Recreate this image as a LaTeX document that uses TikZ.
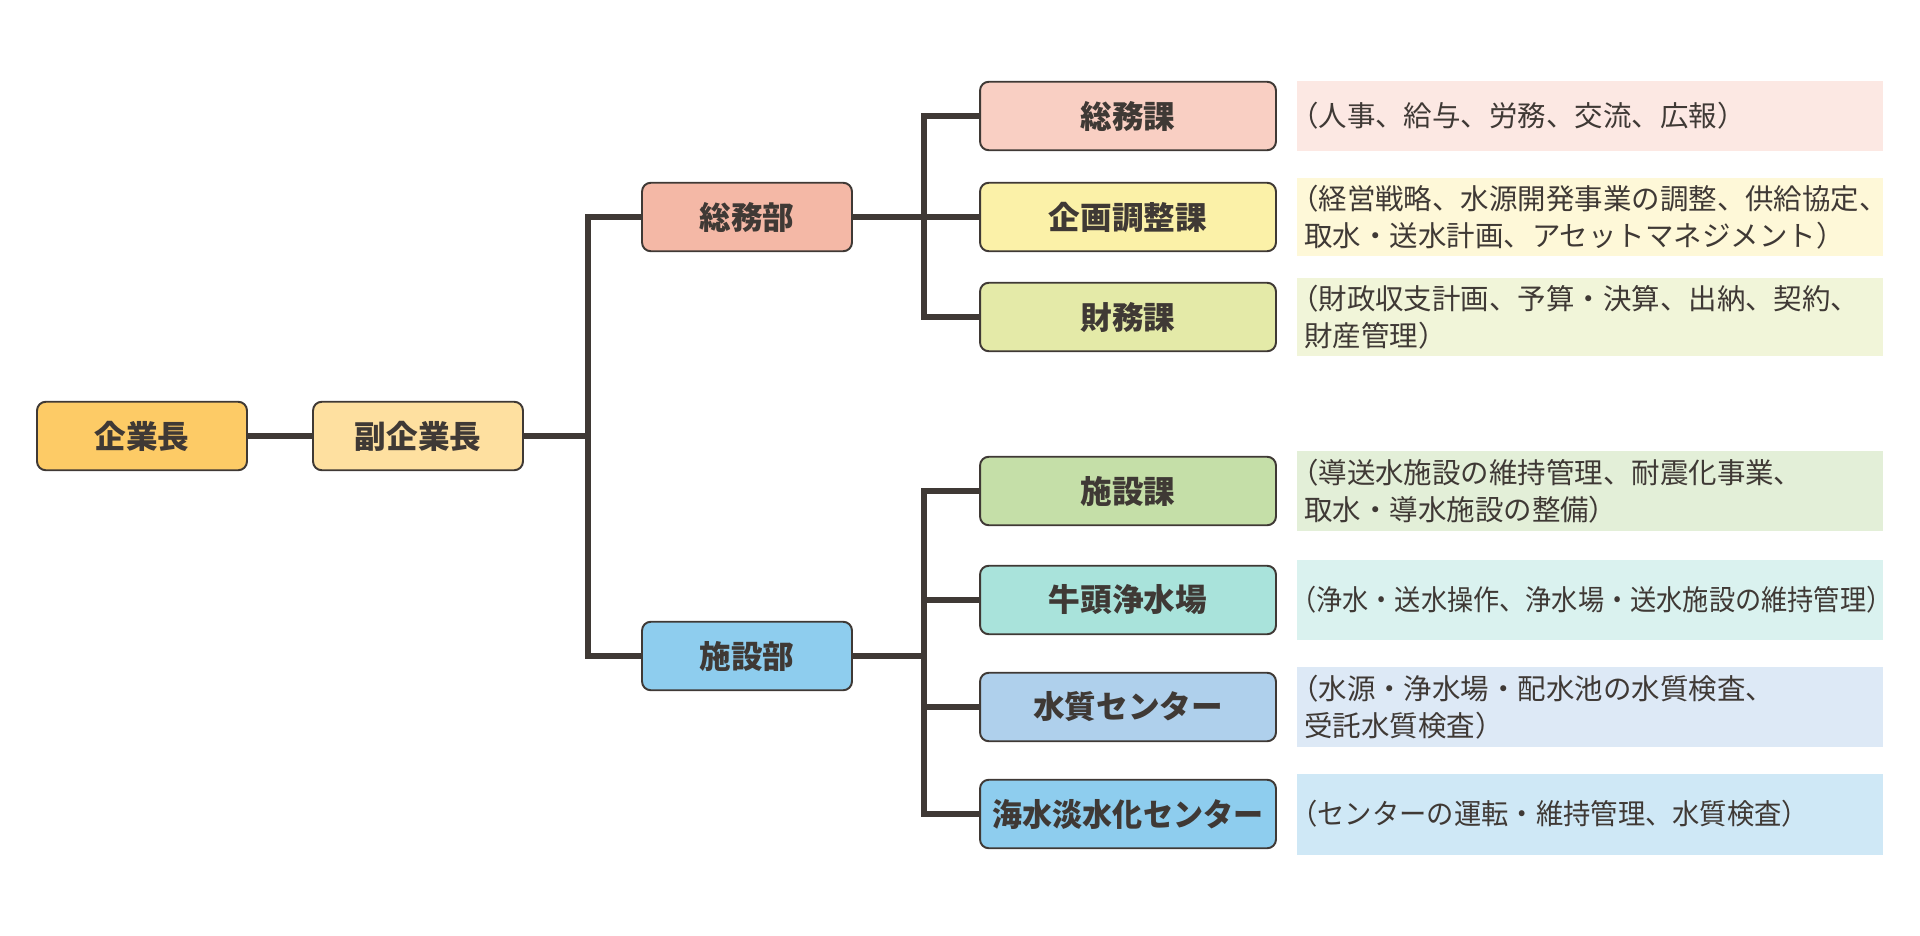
\documentclass[tikz,border=0pt]{standalone}
\usepackage{fontspec}
\newfontfamily\jpfont{Noto Sans CJK JP}
\definecolor{lineclr}{HTML}{3F3935}
\definecolor{topclr}{HTML}{FDCB66}
\definecolor{viceclr}{HTML}{FEE0A0}
\definecolor{buA}{HTML}{F4B8A6}
\definecolor{buB}{HTML}{8ECDEE}
\definecolor{kaA}{HTML}{F9CFC3}
\definecolor{kaB}{HTML}{FBF1A8}
\definecolor{kaC}{HTML}{E4EAA8}
\definecolor{kaD}{HTML}{C5DFA8}
\definecolor{kaE}{HTML}{A9E3DB}
\definecolor{kaF}{HTML}{AFD0EC}
\definecolor{kaG}{HTML}{8ECDEE}
\definecolor{noteA}{HTML}{FCE8E3}
\definecolor{noteB}{HTML}{FEF8D8}
\definecolor{noteC}{HTML}{F1F5D9}
\definecolor{noteD}{HTML}{E3EFD8}
\definecolor{noteE}{HTML}{DAF2EF}
\definecolor{noteF}{HTML}{DDE9F6}
\definecolor{noteG}{HTML}{CFE8F6}
\begin{document}
\begin{tikzpicture}[x=0.02cm, y=-0.02cm,
	box/.style={draw=lineclr, line width=1.1pt, rounded corners=5pt, minimum width=4.2cm, minimum height=1.37cm, inner sep=0pt, text=lineclr, font=\jpfont\bfseries\fontsize{18}{20}\selectfont},
	kabox/.style={box, minimum width=5.92cm},
	note/.style={anchor=west, minimum width=11.72cm, text width=11.44cm, inner xsep=0.14cm, align=left, text=lineclr, font=\jpfont\fontsize{16.2}{21}\selectfont},
	link/.style={draw=lineclr, line width=3.1pt}]
	\useasboundingbox (0,0) rectangle (1920,936);
	\def\kx{1128} % x of the section boxes
	\def\nx{1297} % left edge of the notes
	\def\bx{924} % x of the second branch line
	% top of the tree
	\node[box, fill=topclr] (ceo) at (142,436) {企業長};
	\node[box, fill=viceclr] (vice) at (418,436) {副企業長};
	\node[box, fill=buA] (soumubu) at (747,217) {総務部};
	\node[box, fill=buB] (shisetsubu) at (747,656) {施設部};
	\coordinate (j1) at (588,436);
	\coordinate (j2) at (\bx,217);
	\coordinate (j3) at (\bx,656);
	% sections
	\node[kabox, fill=kaA] (soumuka) at (\kx,116) {総務課};
	\node[kabox, fill=kaB] (kikaku) at (\kx,217) {企画調整課};
	\node[kabox, fill=kaC] (zaimu) at (\kx,317) {財務課};
	\node[kabox, fill=kaD] (shisetsuka) at (\kx,491) {施設課};
	\node[kabox, fill=kaE] (gozu) at (\kx,600) {牛頭浄水場};
	\node[kabox, fill=kaF] (suishitsu) at (\kx,707) {水質センター};
	\node[kabox, fill=kaG] (kaisui) at (\kx,814) {\scalebox{0.95}[1]{海水淡水化センター}};
	% notes
	\node[note, fill=noteA, minimum height=1.4cm] (soumukaN) at (\nx,116) {\hspace*{-0.5em}（人事、給与、労務、交流、広報）};
	\node[note, fill=noteB, minimum height=1.55cm] (kikakuN) at (\nx,217) {\hspace*{-0.5em}（経営戦略、水源開発事業の調整、供給協定、\\取水・送水計画、アセットマネジメント）};
	\node[note, fill=noteC, minimum height=1.56cm] (zaimuN) at (\nx,317) {\hspace*{-0.5em}（財政収支計画、予算・決算、出納、契約、\\財産管理）};
	\node[note, fill=noteD, minimum height=1.6cm] (shisetsukaN) at (\nx,491) {\hspace*{-0.5em}（導送水施設の維持管理、耐震化事業、\\取水・導水施設の整備）};
	\node[note, fill=noteE, minimum height=1.6cm] (gozuN) at (\nx,600) {\hspace*{-0.5em}\scalebox{0.92}[1]{（浄水・送水操作、浄水場・送水施設の維持管理）}};
	\node[note, fill=noteF, minimum height=1.62cm] (suishitsuN) at (\nx,707) {\hspace*{-0.5em}（水源・浄水場・配水池の水質検査、\\受託水質検査）};
	\node[note, fill=noteG, minimum height=1.62cm] (kaisuiN) at (\nx,814) {\hspace*{-0.5em}\scalebox{0.96}[1]{（センターの運転・維持管理、水質検査）}};
	% connectors
	\draw[link] (ceo) -- (vice);
	\draw[link] (vice) -- (j1);
	\draw[link] (soumubu.west) -| (j1) |- (shisetsubu.west);
	\draw[link] (soumubu) -- (kikaku);
	\draw[link] (soumuka.west) -| (j2) |- (zaimu.west);
	\draw[link] (shisetsubu) -- (j3);
	\draw[link] (shisetsuka.west) -| (j3) |- (kaisui.west);
	\draw[link] (gozu.west) -- (gozu.west -| j3);
	\draw[link] (suishitsu.west) -- (suishitsu.west -| j3);
\end{tikzpicture}
\end{document}
